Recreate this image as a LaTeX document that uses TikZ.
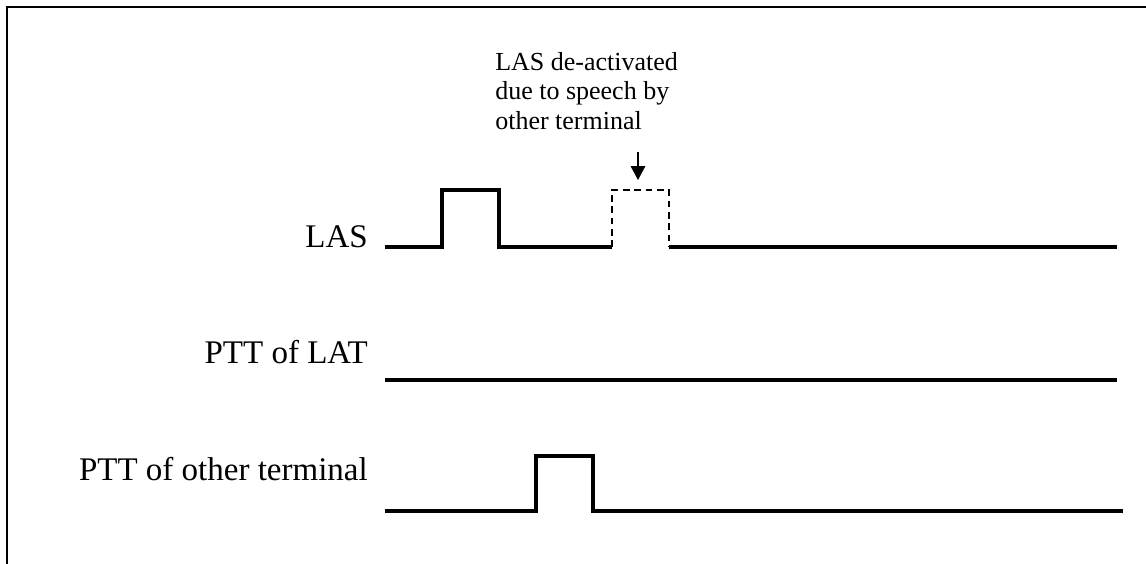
\documentclass[tikz,border=0pt]{standalone}
\usepackage{fontspec}
\setmainfont{Liberation Serif}
\usetikzlibrary{arrows.meta}
\tikzstyle{signal} = [draw, line width=3.4pt]
\tikzstyle{ghost} = [draw, line width=1.4pt, dash pattern=on 5pt off 3.5pt]
\tikzstyle{arrow} = [line width=1pt, -{Triangle[length=10.5pt,width=11pt]}]
\tikzstyle{lbl} = [inner sep=0pt, font=\fontsize{24.75}{28}\selectfont]
\tikzstyle{note} = [inner sep=0pt, align=left, font=\fontsize{19.5}{22.2}\selectfont]

\begin{document}
\begin{tikzpicture}[x=0.75pt,y=-0.75pt]
        \useasboundingbox (0,0) rectangle (1146,564);
        \draw[line width=1.5pt] (7,564) -- (7,7) -- (1146,7);

        \node (1) [lbl, anchor=base east] at (368,247) {LAS};
        \node (2) [lbl, anchor=base east] at (368,363) {PTT of LAT};
        \node (3) [lbl, anchor=base east] at (368,480) {PTT of other terminal};
        \node (4) [note, anchor=north west] at (495,52) {LAS de-activated\\due to speech by\\other terminal};

        \draw[signal] (385,247) -- (442,247) -- (442,190) -- (499,190) -- (499,247) -- (612,247);
        \draw[ghost] (612,247) -- (612,190) -- (669,190) -- (669,247);
        \draw[signal] (669,247) -- (1117,247);

        \draw[signal] (385,380) -- (1117,380);

        \draw[signal] (385,511) -- (536,511) -- (536,456) -- (593,456) -- (593,511) -- (1123,511);

        \coordinate (5) at (638,152);
        \coordinate (6) at (638,180);
        \draw[arrow] (5) -- (6);

    \end{tikzpicture}
\end{document}
